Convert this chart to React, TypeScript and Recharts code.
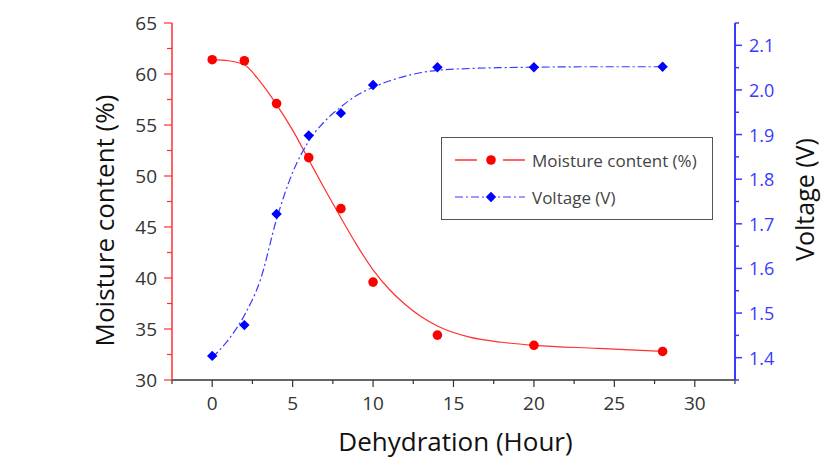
import { ComposedChart, Line, Scatter, XAxis, YAxis, Legend } from "recharts";

// measured points
const hours = [0, 2, 4, 6, 8, 10, 14, 20, 28];
const moisture = [61.4, 61.3, 57.1, 51.8, 46.8, 39.6, 34.4, 33.4, 32.8];
const voltage = [1.404, 1.473, 1.722, 1.898, 1.948, 2.011, 2.051, 2.051, 2.052];

// fitted curves
const fitHours = [0, 1, 2, 3, 4, 5, 6, 7, 8, 9, 10, 11, 12, 13, 14, 16, 18, 20, 24, 28];
const moistureFit = [61.4, 61.3, 60.9, 59.2, 57.0, 54.5, 51.6, 48.7, 45.9, 43.2, 40.8, 38.9, 37.4, 36.2, 35.3, 34.2, 33.7, 33.4, 33.1, 32.8];
const voltageFit = [1.4, 1.44, 1.495, 1.575, 1.71, 1.815, 1.885, 1.93, 1.962, 1.988, 2.006, 2.02, 2.031, 2.039, 2.044, 2.048, 2.05, 2.051, 2.052, 2.052];

const xTicks = [-2.5, 0, 2.5, 5, 7.5, 10, 12.5, 15, 17.5, 20, 22.5, 25, 27.5, 30, 32.5];
const leftTicks = [30, 32.5, 35, 37.5, 40, 42.5, 45, 47.5, 50, 52.5, 55, 57.5, 60, 62.5, 65];
const rightTicks = [1.35, 1.4, 1.45, 1.5, 1.55, 1.6, 1.65, 1.7, 1.75, 1.8, 1.85, 1.9, 1.95, 2.0, 2.05, 2.1, 2.15];

const points = hours.map((h, i) => ({ h, m: moisture[i], v: voltage[i] }));
const fit = fitHours.map((h, i) => ({ h, m: moistureFit[i], v: voltageFit[i] }));

const FONT = "'Open Sans', 'Noto Sans', sans-serif";
const RED = "#ff0000";
const BLUE = "#0000ff";
const BLUE_AXIS = "#3a3aff";

const XTick = (props: any) => {
  const { x, y, payload } = props;
  const major = payload.value % 5 === 0;
  return (
    <g>
      <line x1={x} y1={y} x2={x} y2={y + (major ? 7 : 4)} stroke="#333" strokeWidth={1.2} />
      {major && (
        <text x={x} y={y + 30} textAnchor="middle" fontSize={19} fill="#333" fontFamily={FONT}>
          {payload.value}
        </text>
      )}
    </g>
  );
};

const LeftTick = (props: any) => {
  const { x, y, payload } = props;
  const major = payload.value % 5 === 0;
  return (
    <g>
      <line x1={x} y1={y} x2={x - (major ? 8 : 5)} y2={y} stroke="#ff3030" strokeWidth={1.2} />
      {major && (
        <text x={x - 15} y={y + 7} textAnchor="end" fontSize={19} fill="#333" fontFamily={FONT}>
          {payload.value}
        </text>
      )}
    </g>
  );
};

const RightTick = (props: any) => {
  const { x, y, payload } = props;
  const major = Math.round(payload.value * 100) % 10 === 0;
  return (
    <g>
      <line x1={x} y1={y} x2={x + (major ? 7 : 4)} y2={y} stroke={BLUE_AXIS} strokeWidth={1.5} />
      {major && (
        <text x={x + 14} y={y + 7} textAnchor="start" fontSize={18} fill={BLUE_AXIS} fontFamily={FONT}>
          {payload.value.toFixed(1)}
        </text>
      )}
    </g>
  );
};

const Dot = (props: any) => <circle cx={props.cx} cy={props.cy} r={4.8} fill={RED} />;

const Diamond = (props: any) => {
  const { cx, cy } = props;
  const d = 5.2;
  return <polygon points={`${cx},${cy - d} ${cx + d},${cy} ${cx},${cy + d} ${cx - d},${cy}`} fill={BLUE} />;
};

const LegendBox = () => (
  <div
    style={{
      width: 272,
      height: 83,
      border: "1px solid #555",
      background: "#fff",
      fontFamily: FONT,
      fontSize: 17,
      color: "#444",
      boxSizing: "border-box",
      padding: "10px 0 0 13px",
    }}
  >
    <div style={{ display: "flex", alignItems: "center", height: 24 }}>
      <svg width={77} height={16}>
        <line x1={0} y1={8} x2={22} y2={8} stroke={RED} strokeWidth={1.2} />
        <circle cx={36} cy={8} r={4.8} fill={RED} />
        <line x1={48} y1={8} x2={70} y2={8} stroke={RED} strokeWidth={1.2} />
      </svg>
      <span>Moisture content (%)</span>
    </div>
    <div style={{ display: "flex", alignItems: "center", height: 24, marginTop: 13 }}>
      <svg width={77} height={16}>
        <line x1={0} y1={8} x2={70} y2={8} stroke={BLUE_AXIS} strokeWidth={1.2} strokeDasharray="8 3 2 3" />
        <polygon points="36,2.8 41.2,8 36,13.2 30.8,8" fill={BLUE} />
      </svg>
      <span>Voltage (V)</span>
    </div>
  </div>
);

const LeftLabel = (props: any) => {
  const vb = props.viewBox;
  const cx = vb.x + 104;
  const cy = vb.y + vb.height / 2 + 19;
  return (
    <text
      x={cx}
      y={cy}
      transform={`rotate(-90 ${cx} ${cy})`}
      textAnchor="middle"
      dominantBaseline="central"
      fontSize={26}
      fill="#111"
      fontFamily={FONT}
    >
      Moisture content (%)
    </text>
  );
};

const RightLabel = (props: any) => {
  const vb = props.viewBox;
  const cx = vb.x + 69;
  const cy = vb.y + vb.height / 2 - 2;
  return (
    <text
      x={cx}
      y={cy}
      transform={`rotate(-90 ${cx} ${cy})`}
      textAnchor="middle"
      dominantBaseline="central"
      fontSize={25}
      fill="#111"
      fontFamily={FONT}
    >
      Voltage (V)
    </text>
  );
};

const BottomLabel = (props: any) => {
  const vb = props.viewBox;
  const cx = vb.x + vb.width / 2 + 2;
  const cy = vb.y + 61;
  return (
    <text x={cx} y={cy} textAnchor="middle" dominantBaseline="central" fontSize={26} fill="#111" fontFamily={FONT}>
      Dehydration (Hour)
    </text>
  );
};

export default function App() {
  return (
    <div style={{ position: "absolute", left: 0, top: 0, width: 822, height: 459, background: "#fff" }}>
      <ComposedChart width={822} height={459} margin={{ top: 23, right: 0, bottom: 0, left: 0 }}>
        <XAxis
          type="number"
          dataKey="h"
          domain={[-2.5, 32.5]}
          ticks={xTicks}
          interval={0}
          allowDataOverflow
          height={79}
          tickSize={0}
          tickMargin={0}
          tick={<XTick />}
          axisLine={{ stroke: "#333", strokeWidth: 1.5 }}
          label={<BottomLabel />}
        />
        <YAxis
          yAxisId="left"
          orientation="left"
          type="number"
          domain={[30, 65]}
          ticks={leftTicks}
          interval={0}
          allowDataOverflow
          width={172}
          tickSize={0}
          tickMargin={0}
          tick={<LeftTick />}
          axisLine={{ stroke: "#ff3030", strokeWidth: 1.5 }}
          label={<LeftLabel />}
        />
        <YAxis
          yAxisId="right"
          orientation="right"
          type="number"
          domain={[1.35, 2.15]}
          ticks={rightTicks}
          interval={0}
          allowDataOverflow
          width={87}
          tickSize={0}
          tickMargin={0}
          tick={<RightTick />}
          axisLine={{ stroke: BLUE_AXIS, strokeWidth: 2 }}
          label={<RightLabel />}
        />
        <Line
          yAxisId="left"
          data={fit}
          dataKey="m"
          type="monotone"
          stroke="#ff3030"
          strokeWidth={1.2}
          dot={false}
          isAnimationActive={false}
          legendType="none"
        />
        <Line
          yAxisId="right"
          data={fit}
          dataKey="v"
          type="monotone"
          stroke={BLUE_AXIS}
          strokeWidth={1.2}
          strokeDasharray="8 3 2 3"
          dot={false}
          isAnimationActive={false}
          legendType="none"
        />
        <Scatter yAxisId="left" data={points} dataKey="m" shape={<Dot />} isAnimationActive={false} />
        <Scatter yAxisId="right" data={points} dataKey="v" shape={<Diamond />} isAnimationActive={false} />
        <Legend
          layout="vertical"
          align="center"
          verticalAlign="middle"
          content={<LegendBox />}
          wrapperStyle={{ left: 441, top: 137, width: 272, height: 83 }}
        />
      </ComposedChart>
    </div>
  );
}
